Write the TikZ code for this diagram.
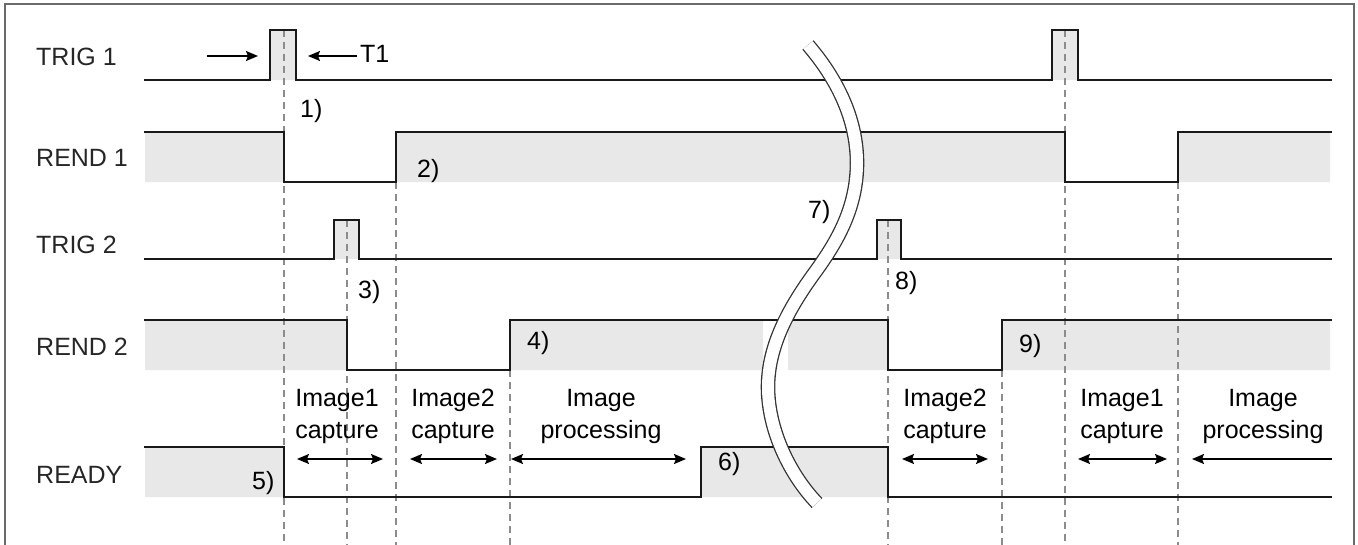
\documentclass[tikz,border=0pt]{standalone}
\usepackage{fontspec}
\setmainfont{Liberation Sans}
\usetikzlibrary{arrows.meta, positioning}

\definecolor{wavefill}{HTML}{E8E8E8}
\definecolor{guidegray}{HTML}{8C8C8C}
\definecolor{framegray}{HTML}{6A6A6A}

\begin{document}
\begin{tikzpicture}[
        x=1pt, y=-1pt,
        font=\fontsize{25}{32}\selectfont,
        signame/.style={anchor=base west, inner sep=0pt, text=black!85},
        tag/.style={anchor=base west, inner sep=0pt},
        phase/.style={anchor=north, align=center, inner sep=0pt},
        wave/.style={draw=black!90, line width=1.8pt, line join=miter},
        high/.style={fill=wavefill},
        guide/.style={draw=guidegray, line width=1.2pt, dash pattern=on 7pt off 5pt},
        span/.style={draw, line width=1.6pt, {Stealth[length=12pt,width=10pt,inset=2pt]}-{Stealth[length=12pt,width=10pt,inset=2pt]}},
        line/.style={draw, line width=1.6pt, -{Stealth[length=12pt,width=10pt,inset=2pt]}}
        ]
        \useasboundingbox (0,0) rectangle (1358,544);
        \draw[framegray, line width=2pt] (5,548) -- (5,4) -- (1354,4) -- (1354,548);

        \path[high] (270,30) rectangle (296,80) (1052,30) rectangle (1078,80);
        \path[high] (145,132) rectangle (284,182) (396,132) rectangle (1065,182) (1178,132) rectangle (1330,182);
        \path[high] (334,220) rectangle (359,259) (877,220) rectangle (901,259);
        \path[high] (145,320) rectangle (347,370) (510,320) rectangle (763,370) (788,320) rectangle (888,370) (1002,320) rectangle (1330,370);
        \path[high] (145,447) rectangle (284,497) (701,447) rectangle (888,497);

        \draw[guide] (284,30) -- (284,548);
        \draw[guide] (347,220) -- (347,548);
        \draw[guide] (396,182) -- (396,548);
        \draw[guide] (510,370) -- (510,548);
        \draw[guide] (888,220) -- (888,548);
        \draw[guide] (1002,370) -- (1002,548);
        \draw[guide] (1065,30) -- (1065,548);
        \draw[guide] (1178,182) -- (1178,548);

        \draw[wave] (144,80) -- (270,80) -- (270,30) -- (296,30) -- (296,80) -- (1052,80) -- (1052,30) -- (1078,30) -- (1078,80) -- (1332,80);
        \draw[wave] (144,132) -- (284,132) -- (284,182) -- (396,182) -- (396,132) -- (1065,132) -- (1065,182) -- (1178,182) -- (1178,132) -- (1332,132);
        \draw[wave] (144,259) -- (334,259) -- (334,220) -- (359,220) -- (359,259) -- (877,259) -- (877,220) -- (901,220) -- (901,259) -- (1332,259);
        \draw[wave] (144,320) -- (347,320) -- (347,370) -- (510,370) -- (510,320) -- (888,320) -- (888,370) -- (1002,370) -- (1002,320) -- (1332,320);
        \draw[wave] (144,447) -- (284,447) -- (284,497) -- (701,497) -- (701,447) -- (888,447) -- (888,497) -- (1332,497);

        \draw[black!80, line width=1.3pt, double=white, double distance=12pt]
          (808,45) .. controls (838,80) and (857,120) .. (857,163)
          .. controls (857,210) and (835,245) .. (813,275)
          .. controls (790,307) and (768,345) .. (768,387)
          .. controls (768,430) and (790,475) .. (817,503);

        \node[signame] (trig1) at (36,65) {TRIG 1};
        \node[signame] (rend1) at (36,166) {REND 1};
        \node[signame] (trig2) at (36,253) {TRIG 2};
        \node[signame] (rend2) at (36,355) {REND 2};
        \node[signame] (ready) at (36,483) {READY};

        \node[tag] (t1) at (360,62) {T1};
        \node[tag] (n1) at (300,117) {1)};
        \node[tag] (n2) at (417,177) {2)};
        \node[tag] (n3) at (358,298) {3)};
        \node[tag] (n4) at (527,349) {4)};
        \node[tag] (n5) at (252,489) {5)};
        \node[tag] (n6) at (718,470) {6)};
        \node[tag] (n7) at (808,218) {7)};
        \node[tag] (n8) at (895,289) {8)};
        \node[tag] (n9) at (1019,352) {9)};

        \node[phase] (cap1) at (337,389) {Image1\\capture};
        \node[phase] (cap2) at (453,389) {Image2\\capture};
        \node[phase] (proc) at (601,389) {Image\\processing};
        \node[phase] (cap2b) at (945,389) {Image2\\capture};
        \node[phase] (cap1b) at (1122,389) {Image1\\capture};
        \node[phase] (procb) at (1263,389) {Image\\processing};

        \coordinate (t1a) at (207,56);
        \coordinate (t1b) at (258,56);
        \coordinate (t1c) at (357,56);
        \coordinate (t1d) at (308,56);
        \path[line] (t1a) -- (t1b);
        \path[line] (t1c) -- (t1d);

        \coordinate (s1a) at (297,459);
        \coordinate (s1b) at (383,459);
        \coordinate (s2a) at (410,459);
        \coordinate (s2b) at (497,459);
        \coordinate (s3a) at (511,459);
        \coordinate (s3b) at (686,459);
        \coordinate (s4a) at (902,459);
        \coordinate (s4b) at (988,459);
        \coordinate (s5a) at (1078,459);
        \coordinate (s5b) at (1167,459);
        \coordinate (s6a) at (1332,459);
        \coordinate (s6b) at (1192,459);
        \path[span] (s1a) -- (s1b);
        \path[span] (s2a) -- (s2b);
        \path[span] (s3a) -- (s3b);
        \path[span] (s4a) -- (s4b);
        \path[span] (s5a) -- (s5b);
        \path[line] (s6a) -- (s6b);
      \end{tikzpicture}
\end{document}
